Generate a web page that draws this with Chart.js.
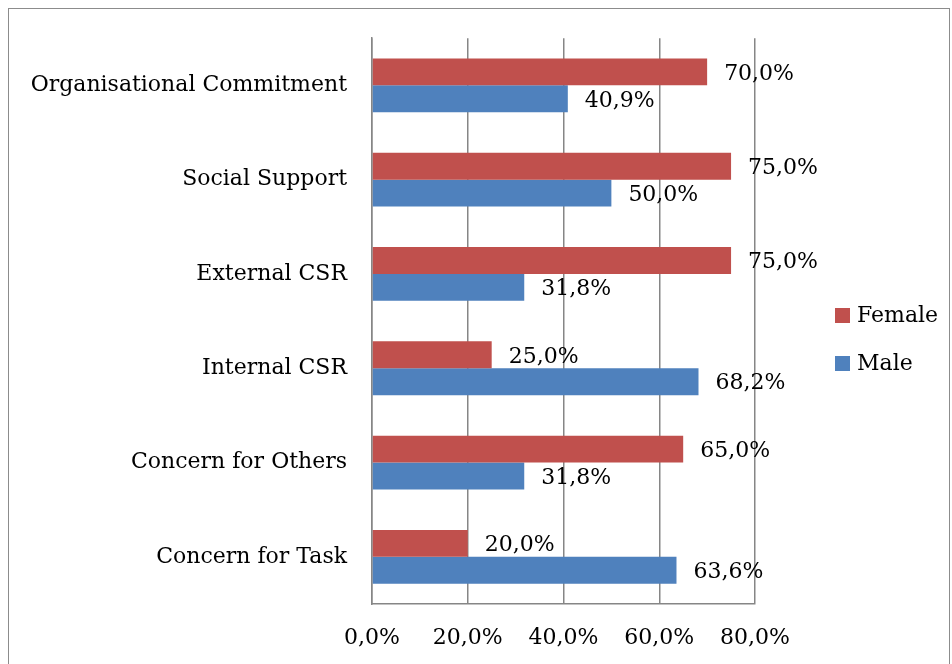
<!DOCTYPE html>
<html>
<head>
<meta charset="utf-8">
<script src="https://cdn.jsdelivr.net/npm/chart.js@4"></script>
<style>
  html, body { margin: 0; padding: 0; background: #fff; }
  #wrap { position: relative; width: 952px; height: 664px; overflow: hidden; }
  #frame { position: absolute; left: 8px; top: 8px; width: 940px; height: 700px; border: 1px solid #8c8c8c; }
  canvas { position: absolute; left: 0; top: 0; }
</style>
</head>
<body>
<div id="wrap">
  <div id="frame"></div>
  <canvas id="chart" width="952" height="664"></canvas>
</div>
<script>
// categories, top to bottom
const categories = [
    'Organisational Commitment',
    'Social Support',
    'External CSR',
    'Internal CSR',
    'Concern for Others',
    'Concern for Task'
];
const femaleValues = [70.0, 75.0, 75.0, 25.0, 65.0, 20.0];
const maleValues = [40.9, 50.0, 31.8, 68.2, 31.8, 63.6];
const xTicks = [0, 20, 40, 60, 80];

const FONT = "'DejaVu Serif', serif";
const pct = v => v.toFixed(1).replace('.', ',') + '%';

// value labels next to each bar
const valueLabels = {
    id: 'valueLabels',
    afterDatasetsDraw(chart) {
        const ctx = chart.ctx;
        ctx.save();
        ctx.font = '22px ' + FONT;
        ctx.fillStyle = '#000';
        ctx.textAlign = 'left';
        ctx.textBaseline = 'middle';
        chart.data.datasets.forEach((ds, i) => {
            chart.getDatasetMeta(i).data.forEach((bar, j) => {
                ctx.fillText(pct(ds.data[j]), bar.x + 17, bar.y + 2);
            });
        });
        ctx.restore();
    }
};

// legend on the right
const sideLegend = {
    id: 'sideLegend',
    afterDraw(chart) {
        const ctx = chart.ctx;
        ctx.save();
        ctx.font = '22px ' + FONT;
        ctx.textBaseline = 'middle';
        chart.data.datasets.forEach((ds, i) => {
            const y = 316 + i * 48;
            ctx.fillStyle = ds.backgroundColor;
            ctx.fillRect(835, y - 8, 15, 15);
            ctx.fillStyle = '#000';
            ctx.fillText(ds.label, 857, y);
        });
        ctx.restore();
    }
};

new Chart(document.getElementById('chart'), {
    type: 'bar',
    data: {
        labels: categories,
        datasets: [
            { label: 'Female', data: femaleValues, backgroundColor: '#C0504D' },
            { label: 'Male', data: maleValues, backgroundColor: '#4F81BD' }
        ]
    },
    options: {
        indexAxis: 'y',
        responsive: false,
        animation: false,
        layout: { padding: { left: 0, top: 37, right: 197, bottom: 0 } },
        datasets: { bar: { categoryPercentage: 0.57, barPercentage: 1.0 } },
        plugins: { legend: { display: false }, tooltip: { enabled: false } },
        scales: {
            x: {
                min: 0, max: 80,
                afterBuildTicks: s => { s.ticks = xTicks.map(v => ({ value: v })); },
                afterFit: s => { s.height = 60; },
                ticks: { callback: v => pct(v), color: '#000', font: { family: FONT, size: 22 }, padding: 21 },
                grid: { color: '#868686', lineWidth: 1.5, drawTicks: false },
                border: { color: '#868686', width: 1.5 }
            },
            y: {
                afterFit: s => { s.width = 372; },
                ticks: { color: '#000', font: { family: FONT, size: 22 }, padding: 25 },
                grid: { display: false, drawTicks: false },
                border: { color: '#868686', width: 1.5 }
            }
        }
    },
    plugins: [valueLabels, sideLegend]
});
</script>
</body>
</html>
